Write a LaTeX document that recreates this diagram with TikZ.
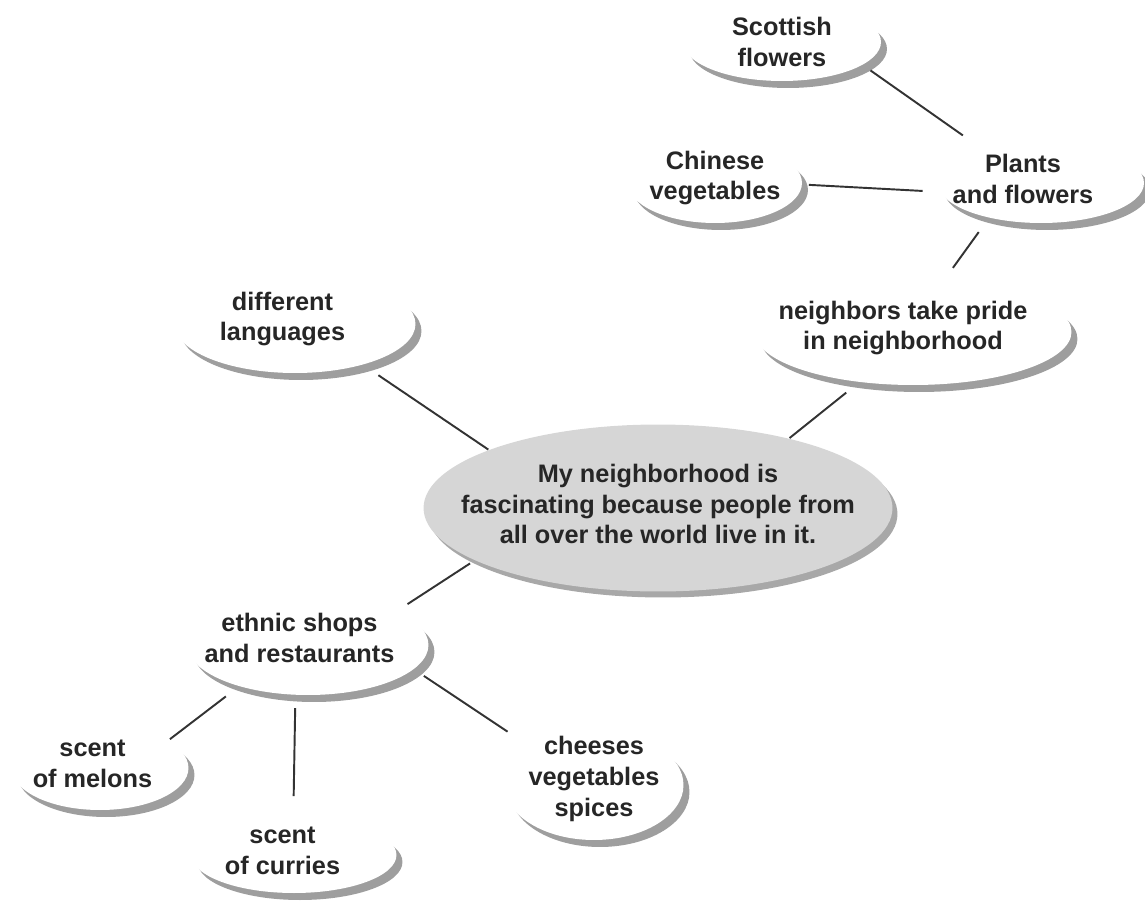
\documentclass[tikz,border=0pt]{standalone}
\usepackage{fontspec}
\setmainfont{Liberation Sans}
\usetikzlibrary{shapes.geometric,shadows}

\begin{document}
\begin{tikzpicture}[x=0.02cm, y=-0.02cm, line width=1pt, inner sep=0pt]
				\tikzset{link/.style={draw=black!80, line width=1.1pt}}
				\tikzstyle{bubble}=[ellipse, fill=white, drop shadow={shadow xshift=0.12cm, shadow yshift=-0.14cm, fill=black!38, opacity=1}]
				\tikzstyle{txt}=[font=\fontsize{14.4}{17.5}\selectfont\bfseries, text=black!85, align=center]

				\useasboundingbox (0,0) rectangle (1145,902);

				%NODOS
				\node[ellipse, fill=black!16, minimum width=9.38cm, minimum height=3.34cm, drop shadow={shadow xshift=0.1cm, shadow yshift=-0.12cm, fill=black!34, opacity=1},
					label={[txt,yshift=0.08cm]center:{My neighborhood is\\fascinating because people from\\all over the world live in it.}}]	(main) at (658,508) {};
				\node[bubble, minimum width=6.34cm, minimum height=2.12cm, label={[txt,xshift=-0.2cm,yshift=0.08cm]center:{neighbors take pride\\in neighborhood}}]	(pride) at (913,332) {};
				\node[bubble, minimum width=4.12cm, minimum height=1.6cm, label={[txt,xshift=-0.36cm,yshift=0.08cm]center:{Plants\\and flowers}}]	(plants) at (1041,183) {};
				\node[bubble, minimum width=3.96cm, minimum height=1.56cm, label={[txt]center:{Scottish\\flowers}}]	(scottish) at (782,42) {};
				\node[bubble, minimum width=3.48cm, minimum height=1.6cm, label={[txt,yshift=0.1cm]center:{Chinese\\vegetables}}]	(chinese) at (715,183) {};
				\node[bubble, minimum width=4.82cm, minimum height=1.96cm, label={[txt,xshift=-0.25cm,yshift=0.1cm]center:{different\\languages}}]	(langs) at (295,324) {};
				\node[bubble, minimum width=4.82cm, minimum height=2.0cm, label={[txt,xshift=-0.17cm,yshift=0.14cm]center:{ethnic shops\\and restaurants}}]	(shops) at (308,645) {};
				\node[bubble, minimum width=3.54cm, minimum height=1.68cm, label={[txt,xshift=-0.15cm,yshift=0.08cm]center:{scent\\of melons}}]	(melons) at (100,768) {};
				\node[bubble, minimum width=4.1cm, minimum height=1.52cm, label={[txt,xshift=-0.23cm,yshift=0.08cm]center:{scent\\of curries}}]	(curries) at (294,855) {};
				\node[bubble, minimum width=3.58cm, minimum height=2.2cm, label={[txt,yshift=0.12cm]center:{cheeses\\vegetables\\spices}}]	(cheeses) at (594,785) {};

				%CONEXIONES
				\path
					(scottish.-16)	edge [link, shorten <=0.18cm, shorten >=0.48cm]	(plants.150)
					(chinese.-1)	edge [link, shorten <=0.12cm, shorten >=0.34cm]	(plants.185)
					(plants.214)	edge [link, shorten <=0.34cm, shorten >=0.28cm]	(pride.59)
					(pride.223)	edge [link, shorten <=0.32cm]			(main.28)
					(langs.-31)	edge [link, shorten <=0.36cm]			(main.161)
					(main.196)	edge [link, shorten <=0.1cm, shorten >=0.24cm]	(shops.21)
					(shops.211)	edge [link, shorten <=0.32cm, shorten >=0.04cm]	(melons.22)
					(shops.256)	edge [link, shorten <=0.25cm, shorten >=0.4cm]	(curries.91)
					(shops.-13)	edge [link, shorten <=0.23cm, shorten >=0.52cm]	(cheeses.149);
\end{tikzpicture}
\end{document}
